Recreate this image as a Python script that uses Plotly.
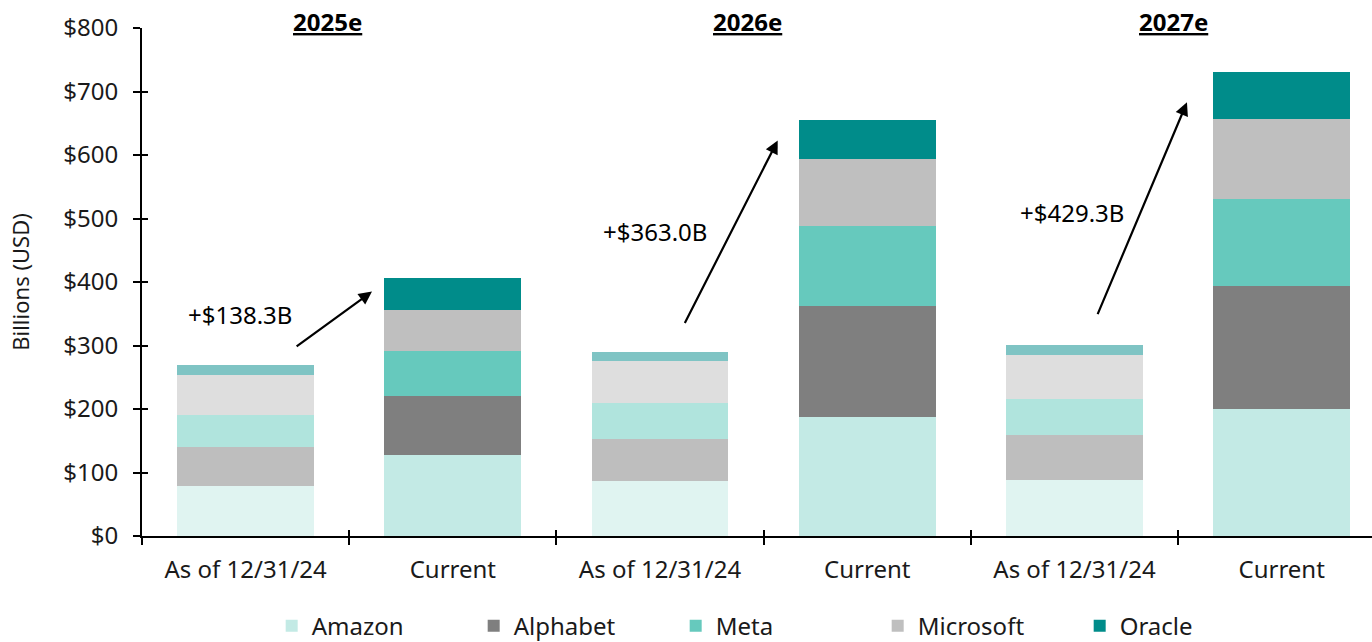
import plotly.graph_objects as go

# ---- data ----
companies = ["Amazon", "Alphabet", "Meta", "Microsoft", "Oracle"]
years = ["2025e", "2026e", "2027e"]
bar_labels = ["As of 12/31/24", "Current", "As of 12/31/24", "Current", "As of 12/31/24", "Current"]

# values in billions USD, per company, for 2025e / 2026e / 2027e
asof_values = {
    "Amazon":    [78, 86, 88],
    "Alphabet":  [62, 66, 71],
    "Meta":      [51, 58, 56],
    "Microsoft": [63, 65.5, 70.5],
    "Oracle":    [16, 15, 15.5],
}
current_values = {
    "Amazon":    [128, 188, 200],
    "Alphabet":  [93, 175, 194],
    "Meta":      [71, 124.5, 137],
    "Microsoft": [64.5, 106, 126],
    "Oracle":    [50.5, 61.5, 74],
}
increase_labels = ["+$138.3B", "+$363.0B", "+$429.3B"]

# ---- styles ----
current_colors = {"Amazon": "#c3eae5", "Alphabet": "#7f7f7f", "Meta": "#66c9bd",
                  "Microsoft": "#bfbfbf", "Oracle": "#008c8a"}
asof_colors = {"Amazon": "#e0f4f1", "Alphabet": "#bebebe", "Meta": "#b0e4dd",
               "Microsoft": "#dedede", "Oracle": "#7fc4c4"}

FONT = "Noto Sans"
asof_x = [0, 2, 4]
current_x = [1, 3, 5]
centers = list(range(len(bar_labels)))
boundaries = [c - 0.5 for c in centers]

fig = go.Figure()
for c in companies:
    fig.add_trace(go.Bar(x=asof_x, y=asof_values[c], name=c, legendgroup=c,
                         showlegend=False, marker=dict(color=asof_colors[c], line=dict(width=0)),
                         width=0.66))
for c in companies:
    fig.add_trace(go.Bar(x=current_x, y=current_values[c], name=c, legendgroup=c,
                         showlegend=True, marker=dict(color=current_colors[c], line=dict(width=0)),
                         width=0.66))
# helper trace for the overlay axes (inside half of crossing ticks)
fig.add_trace(go.Scatter(x=[None], y=[None], xaxis="x2", yaxis="y2",
                         showlegend=False, hoverinfo="skip"))

# arrows + labels
arrow_tail_x = [0.239, 2.116, 4.109]
arrow_tail_y = [297, 333, 347]
arrow_head_x = [0.610, 2.568, 4.543]
arrow_head_y = [385, 623, 683]
label_x = [-0.025, 1.977, 3.986]
label_y = [349, 480, 510]
title_x = [0.394, 2.420, 4.480]

for i in range(3):
    fig.add_annotation(x=arrow_head_x[i], y=arrow_head_y[i], ax=arrow_tail_x[i], ay=arrow_tail_y[i],
                       xref="x", yref="y", axref="x", ayref="y", text="", showarrow=True,
                       arrowhead=2, arrowsize=1.2, arrowwidth=2.2, arrowcolor="black")
    fig.add_annotation(x=label_x[i], y=label_y[i], xref="x", yref="y", text=increase_labels[i],
                       showarrow=False, font=dict(family=FONT, size=24, color="black"))
    fig.add_annotation(x=title_x[i], y=1.012, xref="x", yref="paper", yanchor="middle",
                       text="<b><u>" + years[i] + "</u></b>", showarrow=False,
                       font=dict(family=FONT, size=24, color="black"))

xr = [-0.5, 5.436]
yr = [0, 800]
fig.update_layout(
    width=1372, height=642,
    margin=dict(l=142, r=0, t=28, b=106, autoexpand=False),
    barmode="stack",
    plot_bgcolor="white", paper_bgcolor="white",
    font=dict(family=FONT, size=24, color="#1a1a1a"),
    showlegend=True,
    legend=dict(orientation="h", x=0.516, xanchor="center", y=-0.133, yanchor="top",
                font=dict(family=FONT, size=24, color="#1a1a1a"), traceorder="normal",
                entrywidth=157, entrywidthmode="pixels"),
    xaxis=dict(range=xr, tickmode="array", tickvals=centers, ticktext=bar_labels,
               ticks="", showline=True, linecolor="black", linewidth=2, showgrid=False,
               zeroline=False, ticklabelstandoff=11, tickfont=dict(size=24),
               minor=dict(tickmode="array", tickvals=boundaries, ticks="outside", ticklen=7,
                          tickwidth=2, tickcolor="black", showgrid=False)),
    yaxis=dict(range=yr, tickmode="array", tickvals=list(range(0, 801, 100)),
               ticktext=["$" + str(v) for v in range(0, 801, 100)],
               ticks="outside", ticklen=7, tickwidth=2, tickcolor="black",
               showline=True, linecolor="black", linewidth=2, showgrid=False, zeroline=False,
               ticklabelstandoff=10, tickfont=dict(size=24),
               title=dict(text="Billions (USD)", font=dict(size=22), standoff=28)),
    xaxis2=dict(overlaying="x", matches="x", range=xr, tickmode="array", tickvals=boundaries,
                ticks="inside", ticklen=6, tickwidth=2, tickcolor="black", showticklabels=False,
                showline=False, showgrid=False, zeroline=False),
    yaxis2=dict(overlaying="y", matches="y", range=yr, tickmode="array",
                tickvals=list(range(0, 801, 100)), ticks="inside", ticklen=6, tickwidth=2,
                tickcolor="black", showticklabels=False, showline=False, showgrid=False,
                zeroline=False),
)

fig.write_html("out.html", config={"displayModeBar": False},
               post_script="document.body.style.margin='0';")
